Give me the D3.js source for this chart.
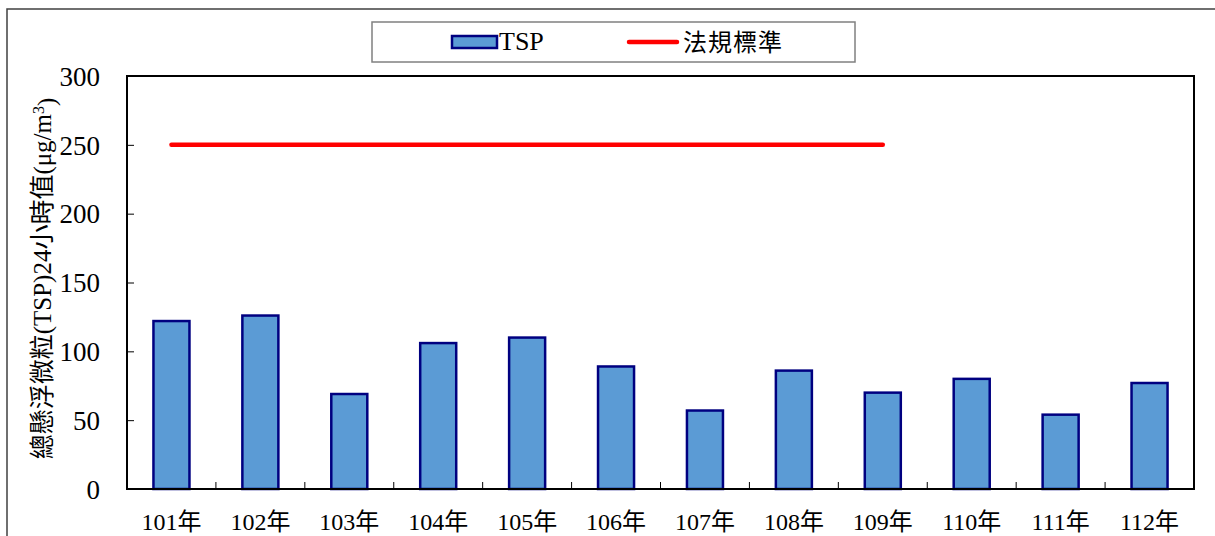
<!DOCTYPE html>
<html>
<head>
<meta charset="utf-8">
<script src="https://cdn.jsdelivr.net/npm/d3@7"></script>
<style>
  body { margin: 0; background: #fff; }
  svg { display: block; }
  text { font-family: "Liberation Serif", "Times New Roman", "DejaVu Serif", "Noto Sans CJK TC", serif; fill: #000; }
</style>
</head>
<body>
<svg id="chart" width="1215" height="536"></svg>
<script>
// chart data
const years = ["101年", "102年", "103年", "104年", "105年", "106年", "107年", "108年", "109年", "110年", "111年", "112年"];
const tsp = [122, 126, 69, 106, 110, 89, 57, 86, 70, 80, 54, 77];
const standardYears = ["101年", "109年"];
const standardValue = 250;
const yTicks = [0, 50, 100, 150, 200, 250, 300];

let svg = d3.select("#chart"),
  width = +svg.attr("width"),
  height = +svg.attr("height");

const margin = {left: 127, top: 76, right: 21, bottom: 47};
const innerW = width - margin.left - margin.right,
  innerH = height - margin.top - margin.bottom;

// outer frame (cut off at right/bottom)
svg.append("rect")
  .attr("x", 7).attr("y", 9)
  .attr("width", 1300).attr("height", 600)
  .attr("fill", "none")
  .attr("stroke", "#404040")
  .attr("stroke-width", 1.5);

const g = svg.append("g").attr("transform", `translate(${margin.left},${margin.top})`);

const x = d3.scaleBand().domain(years).range([0, innerW]).paddingInner(0.595).paddingOuter(0.2975);
const xb = d3.scaleBand().domain(years).range([0, innerW]);
const y = d3.scaleLinear().domain([0, 300]).range([innerH, 0]);

// bars
g.append("g").selectAll("rect")
  .data(tsp)
  .enter().append("rect")
  .attr("x", (d, i) => x(years[i]))
  .attr("y", d => y(d))
  .attr("width", x.bandwidth())
  .attr("height", d => innerH - y(d))
  .attr("fill", "#5b9bd5")
  .attr("stroke", "#000080")
  .attr("stroke-width", 2.5);

// standard line
g.append("line")
  .attr("x1", xb(standardYears[0]) + xb.bandwidth() / 2)
  .attr("x2", xb(standardYears[1]) + xb.bandwidth() / 2)
  .attr("y1", y(standardValue))
  .attr("y2", y(standardValue))
  .attr("stroke", "#ff0000")
  .attr("stroke-width", 4.5)
  .attr("stroke-linecap", "round");

// plot box
g.append("rect")
  .attr("width", innerW).attr("height", innerH)
  .attr("fill", "none")
  .attr("stroke", "#000")
  .attr("stroke-width", 2);

// y axis ticks (inside) + labels
const yAxis = d3.axisLeft(y).tickValues(yTicks).tickSize(-7).tickPadding(27);
const yg = g.append("g").call(yAxis);
yg.select(".domain").remove();
yg.selectAll("line").attr("stroke", "#000");
yg.selectAll("text")
  .style("font-size", "27px")
  .style("font-family", "'Liberation Serif', 'Times New Roman', serif")
  .attr("fill", "#000")
  .attr("dy", "0.34em");

// x axis: ticks at band boundaries pointing up
const bounds = years.slice(1).map(c => xb(c));
g.append("g").selectAll("line")
  .data(bounds)
  .enter().append("line")
  .attr("x1", d => d).attr("x2", d => d)
  .attr("y1", innerH).attr("y2", innerH - 7)
  .attr("stroke", "#000");

g.append("g").selectAll("text")
  .data(years)
  .enter().append("text")
  .attr("x", d => xb(d) + xb.bandwidth() / 2)
  .attr("y", innerH + 41)
  .attr("text-anchor", "middle")
  .style("font-size", "24px")
  .text(d => d);

// y axis title
const yt = svg.append("text")
  .attr("transform", `translate(51,${margin.top + innerH / 2 - 4}) rotate(-90)`)
  .attr("text-anchor", "middle")
  .style("font-size", "25px");
yt.append("tspan").text("總懸浮微粒(TSP)24小時值(μg/m");
yt.append("tspan").attr("dy", "-0.45em").style("font-size", "16px").text("3");
yt.append("tspan").attr("dy", "0.45em").text(")");

// legend
const lg = svg.append("g");
lg.append("rect")
  .attr("x", 372).attr("y", 22).attr("width", 483).attr("height", 40)
  .attr("fill", "#fff").attr("stroke", "#808080").attr("stroke-width", 1.5);
lg.append("rect")
  .attr("x", 452).attr("y", 36).attr("width", 45).attr("height", 12)
  .attr("fill", "#5b9bd5").attr("stroke", "#000080").attr("stroke-width", 2.5);
lg.append("text").attr("x", 499).attr("y", 50).style("font-size", "26px").text("TSP");
lg.append("line")
  .attr("x1", 629).attr("x2", 677).attr("y1", 42).attr("y2", 42)
  .attr("stroke", "#ff0000").attr("stroke-width", 4.5).attr("stroke-linecap", "round");
lg.append("text").attr("x", 683).attr("y", 51).style("font-size", "24px").style("letter-spacing", "1px").text("法規標準");
</script>
</body>
</html>
